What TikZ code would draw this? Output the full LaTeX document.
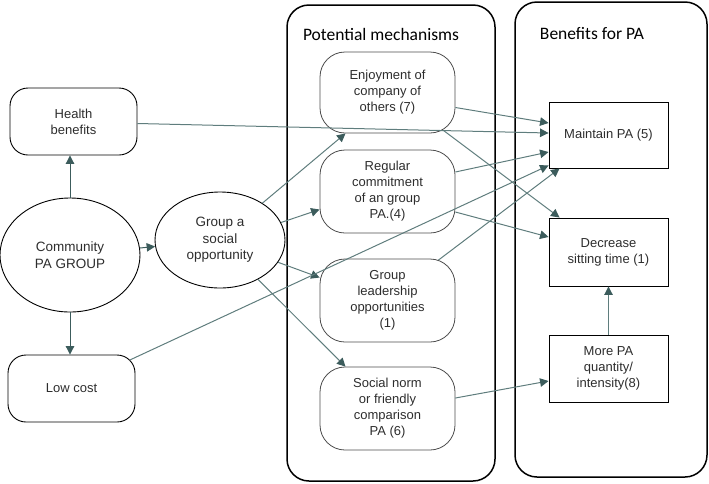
\documentclass[tikz,border=0pt]{standalone}
\usepackage{fontspec}
\setmainfont{Liberation Sans}
\newfontfamily\titlefont{Carlito}
\usetikzlibrary{shapes.geometric,arrows.meta}
\definecolor{lnc}{RGB}{95,125,125}
\definecolor{tipc}{RGB}{60,92,92}
\definecolor{txc}{RGB}{45,45,45}
\begin{document}
\begin{tikzpicture}[x=1pt,y=1pt,
  box/.style={draw=black,line width=0.9pt,rounded corners=18pt,align=center,text=txc,
    font=\fontsize{13}{16}\selectfont,inner sep=2pt},
  mech/.style={draw=black!70,line width=0.8pt,rounded corners=25pt,align=center,text=txc,
    font=\fontsize{13}{16}\selectfont,minimum width=135pt,minimum height=82pt,inner sep=2pt},
  ell/.style={draw=black,line width=0.9pt,ellipse,align=center,text=txc,
    font=\fontsize{13.5}{16.5}\selectfont,inner sep=0pt},
  ben/.style={draw=black,line width=0.9pt,align=center,text=txc,
    font=\fontsize{13}{16}\selectfont,minimum width=119pt,minimum height=67pt,inner sep=2pt},
  cont/.style={draw=black,line width=1.5pt,rounded corners=22pt},
  ttl/.style={font=\titlefont\fontsize{17.5}{20}\selectfont,text=black},
  arr/.style={draw=lnc,line width=1pt,-{Triangle[length=8.5pt,width=8.5pt,fill=tipc,color=tipc]}},
  darr/.style={arr,draw=tipc}
]
\useasboundingbox (0,0) rectangle (709,-483);
% containers
\node[cont,minimum width=208pt,minimum height=476pt] (pm) at (391,-243) {};
\node[cont,minimum width=192pt,minimum height=475pt] (bp) at (611,-239.5) {};
\node[ttl] (pmt) at (381,-34) {Potential mechanisms};
\node[ttl] (bpt) at (592,-34) {Benefits for PA};
% left nodes
\node[box,minimum width=127pt,minimum height=67pt] (hb) at (73.5,-121.5) {Health\\benefits};
\node[ell,minimum width=140pt,minimum height=114pt] (cpg) at (70,-255) {Community\\PA GROUP};
\node[ell,minimum width=130pt,minimum height=96pt] (gso) at (220,-240) {Group a\\social\\opportunity};
\node[box,minimum width=127pt,minimum height=67pt] (lc) at (71.5,-388.5) {Low cost};
% mechanisms
\node[mech,minimum height=81pt] (enj) at (387.5,-92.5) {Enjoyment of\\company of\\others (7)};
\node[mech,minimum height=83pt] (reg) at (387.5,-191.5) {Regular\\commitment\\of an group\\PA.(4)};
\node[mech,minimum height=83pt] (lead) at (387.5,-300.5) {Group\\leadership\\opportunities\\(1)};
\node[mech,minimum height=83pt] (soc) at (387.5,-408.5) {Social norm\\or friendly\\comparison\\PA (6)};
% benefits
\node[ben,minimum height=66pt] (mpa) at (608.5,-135) {Maintain PA (5)};
\node[ben,minimum height=68pt] (dec) at (608.5,-252) {Decrease\\sitting time (1)};
\node[ben] (more) at (608.5,-368.5) {More PA\\quantity/\\intensity(8)};
% connectors
\draw[darr] (cpg.north) -- (hb.south -| cpg.north);
\draw[darr] (cpg.south) -- (lc.north -| cpg.south);
\draw[darr] (cpg) -- (gso);
\draw[arr] (gso.41) -- ([xshift=-42pt]enj.south);
\draw[arr] (gso.16) -- ([yshift=-18pt]reg.west);
\draw[arr] (gso.-21) -- ([yshift=23pt]lead.west);
\draw[arr] (gso.-46) -- ([xshift=-42pt]soc.north);
\draw[arr] ([yshift=-2pt]hb.east) -- ([yshift=2pt]mpa.west);
\draw[arr] ([yshift=-15pt]enj.east) -- ([yshift=12pt]mpa.west);
\draw[arr] ([yshift=19.5pt]reg.east) -- ([yshift=-17pt]mpa.west);
\draw[arr] ([shift={(-5.3pt,-5.3pt)}]lc.north east) -- ([yshift=3pt]mpa.south west);
\draw[arr] ([shift={(-17pt,-1.5pt)}]lead.north east) -- ([xshift=11pt]mpa.south west);
\draw[arr] ([shift={(-12pt,3pt)}]enj.south east) -- ([xshift=11pt]dec.north west);
\draw[arr] ([yshift=-20.5pt]reg.east) -- ([yshift=15pt]dec.west);
\draw[arr] ([yshift=10.5pt]soc.east) -- ([yshift=-12.5pt]more.west);
\draw[arr] (more.north) -- (dec.south);
\end{tikzpicture}
\end{document}
